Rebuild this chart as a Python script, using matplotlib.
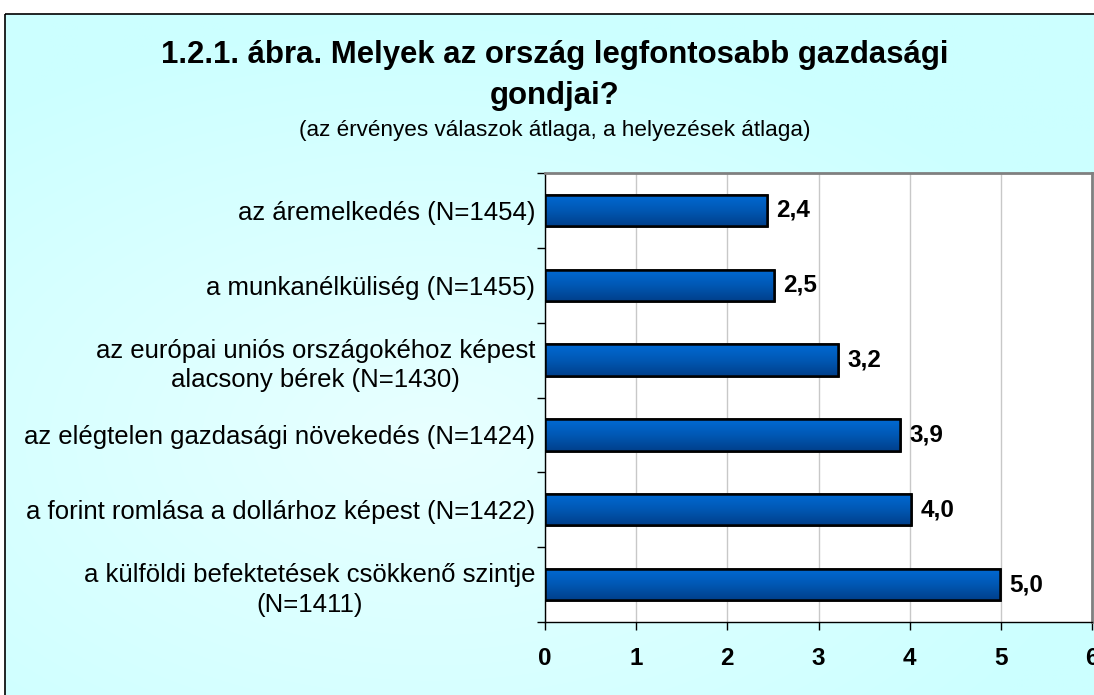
import numpy as np
import matplotlib
matplotlib.use('Agg')
import matplotlib.pyplot as plt
from matplotlib.patches import Rectangle

plt.rcParams['font.family'] = ['Liberation Sans', 'DejaVu Sans']

categories = [
    'az áremelkedés (N=1454)',
    'a munkanélküliség (N=1455)',
    'az európai uniós országokéhoz képest\nalacsony bérek (N=1430)',
    'az elégtelen gazdasági növekedés (N=1424)',
    'a forint romlása a dollárhoz képest (N=1422)',
    'a külföldi befektetések csökkenő szintje\n(N=1411)',
]
values = [2.43, 2.51, 3.21, 3.89, 4.01, 4.99]
value_labels = ['2,4', '2,5', '3,2', '3,9', '4,0', '5,0']
x_ticks = [0, 1, 2, 3, 4, 5, 6]

W, H = 1094, 695
fig = plt.figure(figsize=(W / 100, H / 100), dpi=100)
fig.patch.set_facecolor('white')

# background panel with a soft light-cyan gradient
ax_bg = fig.add_axes([0, 0, 1, 1])
ax_bg.set_xlim(0, W)
ax_bg.set_ylim(H, 0)
ax_bg.set_axis_off()
yy, xx = np.mgrid[0:H, 0:W]
d = np.sqrt(((xx - 420) / 700.0) ** 2 + ((yy - 420) / 420.0) ** 2)
d = np.clip(d, 0, 1)
c0 = np.array([0.91, 1.0, 1.0])
c1 = np.array([0.80, 1.0, 1.0])
img = c0 + (c1 - c0) * d[..., None]
ax_bg.imshow(img, extent=[5, W + 20, H + 20, 14], aspect='auto', zorder=0)
ax_bg.add_patch(Rectangle((5, 14), W + 20, H + 20, fill=False, edgecolor='black', linewidth=1.2, zorder=1))

fig.text(0.507, 0.921, '1.2.1. ábra. Melyek az ország legfontosabb gazdasági',
         ha='center', va='center', fontsize=22.4, fontweight='bold')
fig.text(0.507, 0.862, 'gondjai?', ha='center', va='center', fontsize=22.4, fontweight='bold')
fig.text(0.507, 0.812, '(az érvényes válaszok átlaga, a helyezések átlaga)',
         ha='center', va='center', fontsize=16.2)

ax = fig.add_axes([545 / W, (H - 622) / H, (1092 - 545) / W, (622 - 173) / H])
ax.set_facecolor('white')

ypos = np.arange(len(categories))
bars = ax.barh(ypos, values, height=0.42, color='#0060c0', edgecolor='black', linewidth=1.8, zorder=3)

grad = np.linspace(0, 1, 50)[:, None]
cmap = matplotlib.colors.LinearSegmentedColormap.from_list('bar', ['#006ad4', '#0058b4', '#00408c'])
for b in bars:
    x0, y0 = b.get_x(), b.get_y()
    im = ax.imshow(grad, cmap=cmap, extent=[x0, x0 + b.get_width(), y0 + b.get_height(), y0],
                   aspect='auto', zorder=3.5)
    im.set_clip_path(b)
    edge = Rectangle((x0, y0), b.get_width(), b.get_height(), fill=False,
                     edgecolor='black', linewidth=1.8, zorder=4)
    ax.add_patch(edge)
ax.set_xlim(0, 6)
ax.set_ylim(len(categories) - 0.5, -0.5)

for y, v, lab in zip(ypos, values, value_labels):
    ax.annotate(lab, (v, y), xytext=(7, 0), textcoords='offset points', ha='left', va='center',
                fontsize=17.5, fontweight='bold', zorder=5)

ax.set_xticks(x_ticks)
ax.set_xticklabels([str(t) for t in x_ticks], fontsize=17.5, fontweight='bold')
ax.tick_params(axis='x', direction='out', length=6, width=1, pad=12)
ax.xaxis.grid(True, color='#c8c8c8', linewidth=1, zorder=0)
ax.set_axisbelow(True)

ax.set_yticks(ypos)
ax.set_yticklabels(categories, fontsize=18.5, multialignment='center', linespacing=1.3)
ax.tick_params(axis='y', which='major', length=0, pad=7)
ax.set_yticks(np.arange(-0.5, len(categories), 1), minor=True)
ax.tick_params(axis='y', which='minor', direction='out', length=6, width=1)

for s in ['left', 'bottom']:
    ax.spines[s].set_color('black')
    ax.spines[s].set_linewidth(1)
for s in ['top', 'right']:
    ax.spines[s].set_color('#808080')
    ax.spines[s].set_linewidth(2)

fig.savefig('out.png', dpi=100)
